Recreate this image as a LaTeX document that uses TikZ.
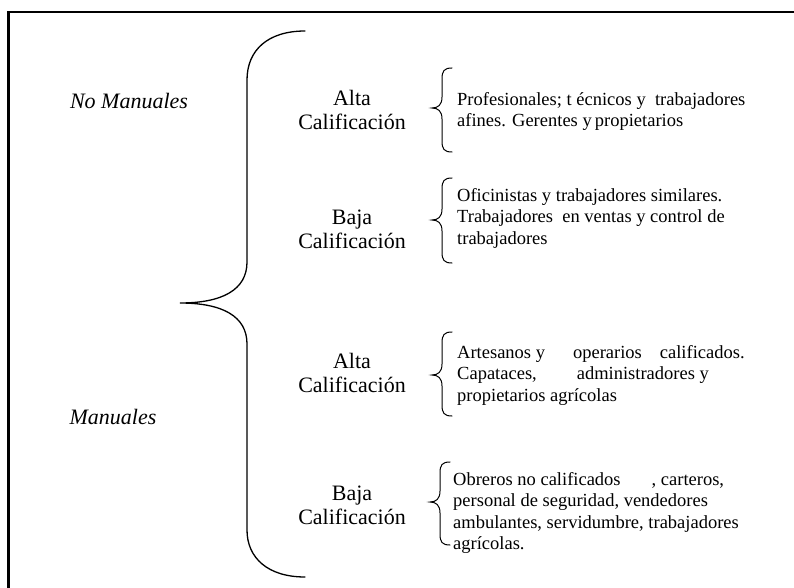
\documentclass[tikz,border=0pt]{standalone}
\usepackage{fontspec}
\setmainfont{Liberation Serif}
\newcommand\SBrace[4]{% xtip, ytop, ytip, ybot
  \draw[sbr] ({#1+20},#2) .. controls ({#1+12},#2) and ({#1+10},{#2+3}) .. ({#1+10},{#2+11})
    -- ({#1+10},{#3-11}) .. controls ({#1+10},{#3-3}) and ({#1+6},#3) .. (#1,#3)
    .. controls ({#1+6},#3) and ({#1+10},{#3+3}) .. ({#1+10},{#3+11})
    -- ({#1+10},{#4-11}) .. controls ({#1+10},{#4-3}) and ({#1+12},#4) .. ({#1+20},#4);}
\begin{document}
\begin{tikzpicture}[x=1pt,y=-1pt,
  lab/.style={font=\fontsize{22}{24}\selectfont, align=center, inner sep=0pt},
  cat/.style={font=\fontsize{22}{24}\selectfont\itshape, inner sep=0pt},
  desc/.style={font=\fontsize{18.5}{21.5}\selectfont, align=left, anchor=west, inner sep=0pt},
  sbr/.style={line width=1pt, line cap=round},
  bigbr/.style={line width=1.3pt, line cap=round},
  frame/.style={line width=2.5pt}]
\useasboundingbox (0,0) rectangle (794,588);
% frame
\draw[frame] (8.5,590) -- (8.5,12) -- (796,12);
% big brace
\draw[bigbr] (305,31) .. controls (268,31) and (247,50) .. (247,80)
  -- (247,262) .. controls (247,290) and (222,303) .. (180,303)
  .. controls (222,303) and (247,316) .. (247,344)
  -- (247,530) .. controls (247,558) and (268,577) .. (305,577);
% categories
\node[cat] (nm) at (129,101) {No Manuales};
\node[cat] (m) at (113,417) {Manuales};
% qualification labels
\node[lab] (a1) at (352,109.5) {Alta\\Calificación};
\node[lab] (b1) at (352,229.5) {Baja\\Calificación};
\node[lab] (a2) at (352,373) {Alta\\Calificación};
\node[lab] (b2) at (352,505) {Baja\\Calificación};
% small braces
\SBrace{432}{68}{108}{152}
\SBrace{432}{178}{220}{263}
\SBrace{432}{332}{375}{416}
\SBrace{430}{462}{502}{545}
% descriptions
\node[desc] (d1) at (457,111.5) {Profesionales; t écnicos y\ \ trabajadores\\afines. Gerentes y\,propietarios};
\node[desc] (d2) at (457,218) {Oficinistas y trabajadores similares.\\Trabajadores\ \ en ventas y control de\\trabajadores};
\node[desc] (d3) at (457,375) {Artesanos y\hspace{28pt}operarios\hspace{18pt}calificados.\\Capataces,\hspace{40pt}administradores y\\propietarios agrícolas};
\node[desc] (d4) at (453,513) {Obreros no calificados\hspace{31pt}, carteros,\\personal de seguridad, vendedores\\ambulantes, servidumbre, trabajadores\\agrícolas.};
\end{tikzpicture}
\end{document}
